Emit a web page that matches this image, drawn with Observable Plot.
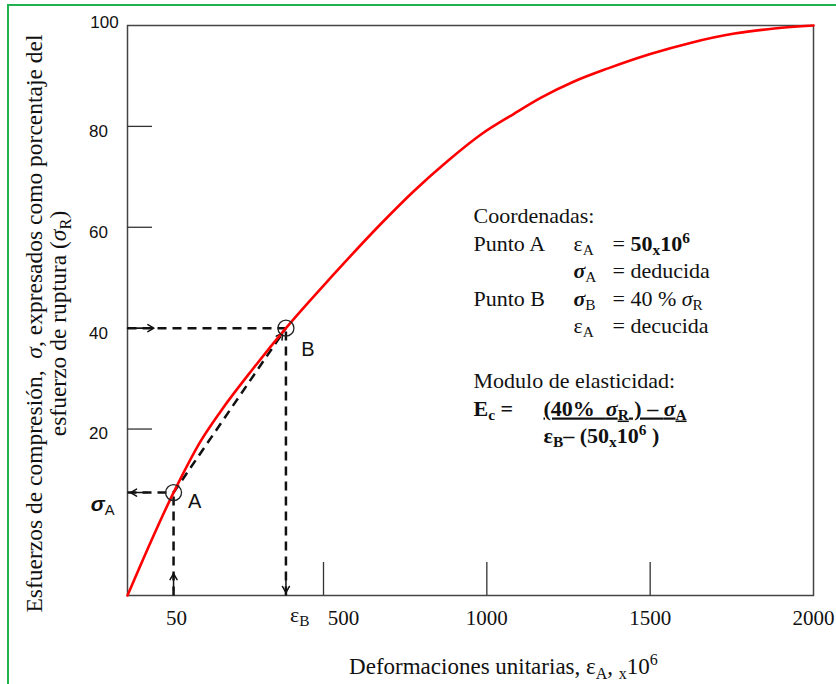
<!DOCTYPE html>
<html>
<head>
<meta charset="utf-8">
<script src="https://cdn.jsdelivr.net/npm/d3@7"></script>
<script src="https://cdn.jsdelivr.net/npm/@observablehq/plot@0.6"></script>
<style>
  html, body { margin: 0; padding: 0; background: #fff; }
  #wrap { position: relative; width: 836px; height: 684px; overflow: hidden; }
  #border { position: absolute; left: 7px; top: 4px; width: 900px; height: 900px;
            border-left: 2px solid #1fb24e; border-top: 2px solid #1fb24e; pointer-events: none; }
  svg text { white-space: pre; }
</style>
</head>
<body>
<div id="wrap"><div id="border"></div></div>
<script>
// ---- data ----
const strain = [-100, 41, 124, 185, 286, 385, 522, 676, 777, 881, 982, 1083, 1166, 1267, 1371, 1503, 1626, 1758, 1880, 2000];
const stress = [-13, 7.4, 17.6, 23.5, 32.1, 40, 50, 60.7, 67.2, 73.2, 78.4, 82.5, 85.7, 88.9, 91.5, 94.4, 96.6, 98.4, 99.4, 100];
const pointNames = ["A", "B"];
const pointStrain = [41, 385];
const pointStress = [7.4, 40];
const xDomain = [-100, 2000];
const yDomain = [-13, 100];
const xTickVals = [500, 1000, 1500];
const xLabelVals = [50, 1000, 1500, 2000];
const xLabelShifted = [500];
const yTickVals = [20, 40, 60, 80];
const yLabelVals = [20, 40, 60, 80];
const yLabelTop = [100];

const yTitle = "Esfuerzos de compresión,  @@σ@@, expresados como porcentaje del\nesfuerzo de ruptura (@@σ@@_{R})";
const xTitle = "Deformaciones unitarias, ε_{A}, _{x}10^{6}";
const notesCol1 = "Coordenadas:\nPunto A\n\nPunto B\n\n\nModulo de elasticidad:\n**E_{c} =**";
const notesCol2 = "\nε_{A}\n**@@σ@@**_{A}\n**@@σ@@**_{B}\nε_{A}";
const notesCol3 = "\n= **50_{x}10^{6}**\n= deducida\n= 40 % @@σ@@_{R}\n= decucida";
const notesCol4 = "\n\n\n\n\n\n\n~~**(40%  @@σ@@_{R} ) – @@σ@@_{A}**~~\n**ε_{B}– (50_{x}10^{6} )**";

const curve = strain.map((x, i) => ({x, y: stress[i]}));
const pts = pointNames.map((name, i) => ({name, x: pointStrain[i], y: pointStress[i]}));
const A = pts[0], B = pts[1];

const serif = "Liberation Serif";
const sans = "Liberation Sans";
const dash = {stroke: "#111", strokeWidth: 2.5, strokeDasharray: "9,6"};
const arr = {stroke: "#111", strokeWidth: 1.5, headLength: 7};
const note = {frameAnchor: "top-left", dy: 178, lineAnchor: "top", textAnchor: "start", lineHeight: 1.25, text: d => d, fontSize: 22, fontFamily: serif};

const chart = Plot.plot({
  width: 836, height: 684,
  marginLeft: 127, marginRight: 23, marginTop: 25, marginBottom: 89,
  x: {domain: xDomain, axis: null},
  y: {domain: yDomain, axis: null},
  style: {fontFamily: serif, background: "white", color: "#111"},
  marks: [
    Plot.frame({stroke: "#444", strokeWidth: 1.5}),
    Plot.tickX(xTickVals, {x: d => d, insetTop: 537, stroke: "#333", strokeWidth: 1.3}),
    Plot.tickY(yTickVals, {y: d => d, insetRight: 661, stroke: "#333", strokeWidth: 1.3}),
    Plot.text(xLabelVals, {x: d => d, frameAnchor: "bottom", dy: 29, text: d => String(d), fontSize: 21, fontFamily: serif}),
    Plot.text(xLabelShifted, {x: d => d, frameAnchor: "bottom", dx: 20, dy: 29, text: d => String(d), fontSize: 21, fontFamily: serif}),
    Plot.text(yLabelVals, {y: d => d, frameAnchor: "left", textAnchor: "middle", dx: -29, dy: 5, text: d => String(d), fontSize: 17, fontFamily: sans}),
    Plot.text(yLabelTop, {y: d => d, frameAnchor: "left", textAnchor: "middle", dx: -23, dy: -3, text: d => String(d), fontSize: 17, fontFamily: sans}),
    // guide lines
    Plot.link([B], {x1: xDomain[0], y1: "y", x2: "x", y2: "y", ...dash}),
    Plot.link([A], {x1: xDomain[0], y1: "y", x2: "x", y2: "y", ...dash}),
    Plot.link([A], {x1: "x", y1: yDomain[0], x2: "x", y2: "y", ...dash}),
    Plot.link([B], {x1: "x", y1: yDomain[0], x2: "x", y2: "y", ...dash}),
    Plot.link([{a: A, b: B}], {x1: d => d.a.x, y1: d => d.a.y, x2: d => d.b.x, y2: d => d.b.y, ...dash}),
    // arrowheads
    Plot.arrow([B], {x1: xDomain[0], y1: "y", x2: "x", y2: "y", insetEnd: 132, ...arr}),
    Plot.arrow([A], {x1: "x", y1: "y", x2: xDomain[0], y2: "y", insetStart: 26, insetEnd: 3, ...arr}),
    Plot.arrow([A], {x1: "x", y1: yDomain[0], x2: "x", y2: "y", insetStart: 5, insetEnd: 81, ...arr}),
    Plot.arrow([B], {x1: "x", y1: "y", x2: "x", y2: yDomain[0], insetStart: 250, insetEnd: 3, ...arr}),
    Plot.arrow([{a: A, b: B}], {x1: d => d.a.x, y1: d => d.a.y, x2: d => d.b.x, y2: d => d.b.y, insetStart: 185, insetEnd: 6, ...arr}),
    // curve
    Plot.line(curve, {x: "x", y: "y", stroke: "#ff0000", strokeWidth: 2.6, curve: "monotone-x"}),
    Plot.dot(pts, {x: "x", y: "y", r: 8, stroke: "#222", fill: "none", strokeWidth: 1.3}),
    Plot.text([A], {x: "x", y: "y", text: "name", dx: 21, dy: 9, fontSize: 20, fontFamily: sans}),
    Plot.text([B], {x: "x", y: "y", text: "name", dx: 22, dy: 21, fontSize: 20, fontFamily: sans}),
    Plot.text([A], {y: "y", frameAnchor: "left", dx: -13, dy: 12, textAnchor: "end", text: d => "**@@σ@@**_{" + d.name + "}", fontSize: 21, fontFamily: sans}),
    Plot.text([B], {x: "x", frameAnchor: "bottom", dx: 4, dy: 26, textAnchor: "start", text: d => "ε_{" + d.name + "}", fontSize: 22, fontFamily: serif}),
    // titles
    Plot.text([yTitle], {frameAnchor: "left", textAnchor: "middle", dx: -81, dy: 13, rotate: -90, text: d => d, fontSize: 23.5, lineHeight: 1.02, fontFamily: serif}),
    Plot.text([xTitle], {frameAnchor: "bottom", dx: 33, dy: 78, text: d => d, fontSize: 23, fontFamily: serif}),
    // notes
    Plot.text([notesCol1], {...note, dx: 346}),
    Plot.text([notesCol2], {...note, dx: 446}),
    Plot.text([notesCol3], {...note, dx: 485}),
    Plot.text([notesCol4], {...note, dx: 416})
  ]
});

document.getElementById("wrap").prepend(chart);

// rich text: **bold**, @@italic@@, ~~underline~~, _{sub}, ^{sup}
const NS = "http://www.w3.org/2000/svg";
function rich(t) {
  const s = t.textContent;
  if (!/[_^]\{|\*\*|@@|~~/.test(s)) return;
  const fs = parseFloat(getComputedStyle(t).fontSize) || 20;
  t.textContent = "";
  let bold = false, ital = false, und = false;
  const re = /(\*\*|@@|~~|[_^]\{[^}]*\})/g;
  let last = 0, m;
  const add = (str, shift) => {
    if (!str) return;
    const sp = document.createElementNS(NS, "tspan");
    sp.textContent = str;
    if (bold) sp.setAttribute("font-weight", "bold");
    if (ital) sp.setAttribute("font-style", "italic");
    if (und) sp.setAttribute("text-decoration", "underline");
    if (shift) {
      sp.setAttribute("baseline-shift", shift === "_" ? `${-0.2 * fs}px` : `${0.38 * fs}px`);
      sp.setAttribute("font-size", `${0.7 * fs}px`);
      sp.setAttribute("font-weight", bold ? "bold" : "normal");
      sp.setAttribute("font-style", "normal");
    }
    t.appendChild(sp);
  };
  while ((m = re.exec(s))) {
    add(s.slice(last, m.index));
    const tok = m[0];
    if (tok === "**") bold = !bold;
    else if (tok === "@@") ital = !ital;
    else if (tok === "~~") und = !und;
    else add(tok.slice(2, -1), tok[0]);
    last = re.lastIndex;
  }
  add(s.slice(last));
}
chart.querySelectorAll("text").forEach(el => {
  const lines = el.querySelectorAll(":scope > tspan");
  if (lines.length) lines.forEach(rich); else rich(el);
});
</script>
</body>
</html>
